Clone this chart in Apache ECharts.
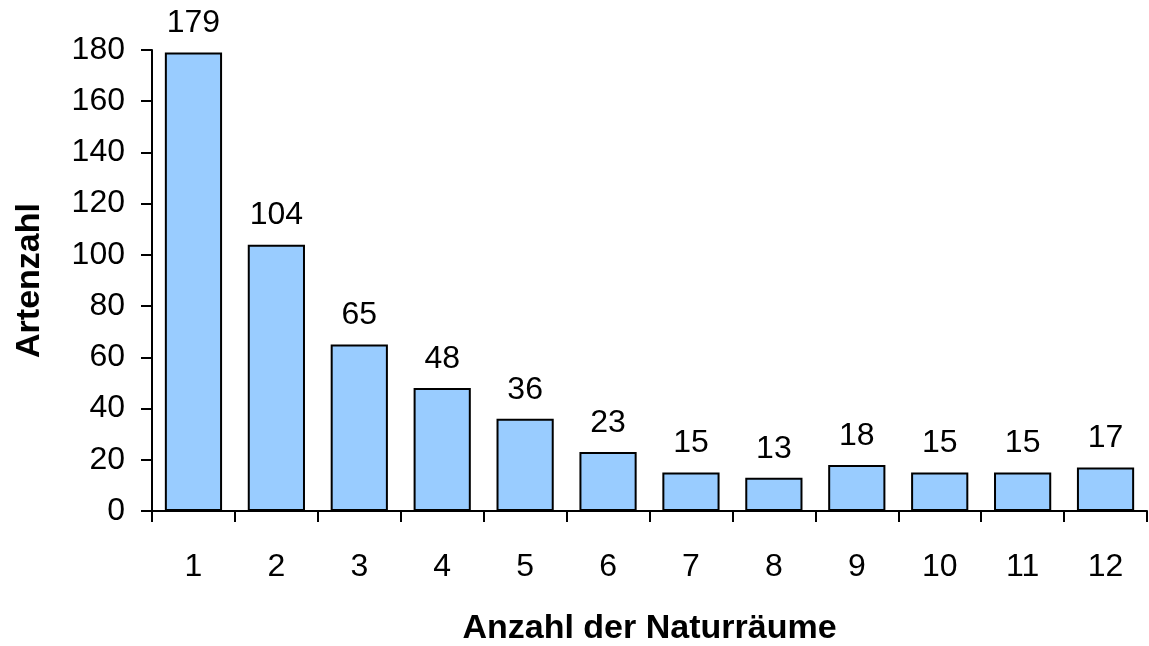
<!DOCTYPE html>
<html>
<head>
<meta charset="utf-8">
<script src="https://cdn.jsdelivr.net/npm/echarts@6/dist/echarts.min.js"></script>
<style>
    html, body { margin: 0; padding: 0; background: #fff; }
    #chart { width: 1149px; height: 646px; }
</style>
</head>
<body>
<div id="chart"></div>
<script>
// Anzahl der Naturräume (Kategorien)
var categories = ['1', '2', '3', '4', '5', '6', '7', '8', '9', '10', '11', '12'];
// Artenzahl je Kategorie
var artenzahl = [179, 104, 65, 48, 36, 23, 15, 13, 18, 15, 15, 17];
var yTicks = [0, 20, 40, 60, 80, 100, 120, 140, 160, 180];

var font = 'Liberation Sans, Arial, sans-serif';
var myChart = echarts.init(document.getElementById('chart'));
var option = {
    animation: false,
    grid: {
        left: 152,
        right: 2,
        top: 50,
        bottom: 135,
        outerBoundsMode: 'none'
    },
    xAxis: {
        type: 'category',
        data: categories,
        name: 'Anzahl der Naturräume',
        nameLocation: 'middle',
        nameGap: 101,
        nameTextStyle: { fontFamily: font, fontSize: 34, fontWeight: 'bold', color: '#000' },
        axisLine: { lineStyle: { color: '#000', width: 2 } },
        axisTick: { show: true, length: 11, lineStyle: { color: '#000', width: 2 } },
        axisLabel: { fontFamily: font, fontSize: 32, color: '#000', margin: 40 }
    },
    yAxis: {
        type: 'value',
        min: yTicks[0],
        max: yTicks[yTicks.length - 1],
        interval: 20,
        name: 'Artenzahl',
        nameLocation: 'middle',
        nameGap: 105,
        nameRotate: 90,
        nameTextStyle: { fontFamily: font, fontSize: 34, fontWeight: 'bold', color: '#000' },
        axisLine: { show: true, lineStyle: { color: '#000', width: 2 } },
        axisTick: { show: true, length: 11, lineStyle: { color: '#000', width: 2 } },
        axisLabel: { fontFamily: font, fontSize: 32, color: '#000', margin: 27 },
        splitLine: { show: false }
    },
    series: [{
        type: 'bar',
        data: artenzahl,
        barCategoryGap: '31%',
        itemStyle: {
            color: '#99CCFF',
            borderColor: '#000',
            borderWidth: 2
        },
        label: {
            show: true,
            position: 'top',
            distance: 13,
            fontFamily: font,
            fontSize: 32,
            color: '#000'
        }
    }]
};
myChart.setOption(option);
</script>
</body>
</html>
